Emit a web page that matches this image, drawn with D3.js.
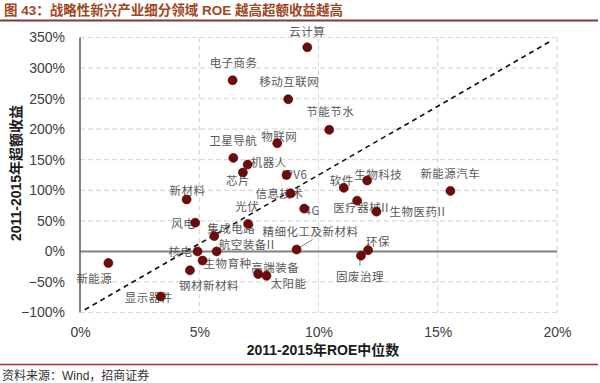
<!DOCTYPE html>
<html><head><meta charset="utf-8">
<script src="https://cdn.jsdelivr.net/npm/d3@7"></script>
<style>
html,body{margin:0;padding:0;background:#fff;}
svg{display:block;}
</style></head>
<body>
<svg id="c" width="600" height="383"></svg>
<script>
// ---- data ----
const names = ["云计算","电子商务","移动互联网","节能节水","物联网","卫星导航","机器人","芯片","IPV6","新材料","信息技术","软件","生物科技","新能源汽车","医疗器械II","生物医药II","4G","光伏","风电","集成电路","核电","航空装备II","精细化工及新材料","环保","固废治理","生物育种","钢材新材料","高端装备","太阳能","新能源","显示器件"];
const roeMedian = [0.0953,0.0640,0.0873,0.1045,0.0827,0.0643,0.0703,0.0683,0.0866,0.0447,0.0883,0.1106,0.1204,0.1553,0.1162,0.1243,0.0940,0.0705,0.0483,0.0563,0.0493,0.0573,0.0908,0.1208,0.1178,0.0514,0.0461,0.0747,0.0782,0.0119,0.0339];
const excessReturn = [3.34,2.80,2.49,1.99,1.77,1.53,1.42,1.29,1.25,0.85,0.95,1.04,1.16,0.99,0.83,0.65,0.70,0.45,0.47,0.25,0.00,0.00,0.03,0.02,-0.07,-0.15,-0.31,-0.37,-0.40,-0.19,-0.74];
const xTicks = [0,0.05,0.10,0.15,0.20];
const yTicks = [-1,-0.5,0,0.5,1,1.5,2,2.5,3,3.5];
const trendLine = [[0.002,-0.955],[0.1975,3.444]];
const title = "图 43：战略性新兴产业细分领域 ROE 越高超额收益越高";
const xTitle = "2011-2015年ROE中位数";
const yTitle = "2011-2015年超额收益";
const source = "资料来源：Wind，招商证券";

// ---- layout (label offsets in px from each dot) ----
const labelOffsets = {
 "云计算":[0,-16],"电子商务":[1,-18],"移动互联网":[1,-18],"节能节水":[1,-19],"物联网":[2,-7],
 "卫星导航":[0,-18],"机器人":[21,-3],"芯片":[-5,7],"IPV6":[8,-1],"新材料":[1,-9],"信息技术":[-11,0],
 "软件":[-2,-8],"生物科技":[11,-7],"新能源汽车":[0,-18],"医疗器械II":[4,6],"生物医药II":[41,-1],
 "4G":[8,1],"光伏":[-1,-18],"风电":[-12,0],"集成电路":[17,-8],"核电":[-17,0],"航空装备II":[30,-7],
 "精细化工及新材料":[14,-19],"环保":[10,-9],"固废治理":[-1,20],"生物育种":[25,2],"钢材新材料":[19,15],
 "高端装备":[17,-7],"太阳能":[22,7],"新能源":[-14,15],"显示器件":[-12,0]
};
const leaders = {"精细化工及新材料":[[3,-2],[16,-10]],"固废治理":[[-1,2],[-1,10]]};

const svg = d3.select("#c");
const x = d3.scaleLinear().domain([0,0.2]).range([80,557]);
const y = d3.scaleLinear().domain([-1,3.5]).range([312.5,37.5]);
const pct = d3.format(".0%");
const latin = "'Liberation Sans', Arial, sans-serif";
const cjk = "'Liberation Sans','Noto Sans CJK SC', sans-serif";

// title
svg.append("text").attr("x",4).attr("y",15).text(title)
  .attr("font-family",cjk).attr("font-size",13.5).attr("font-weight","bold").attr("fill","#a0461e");
svg.append("line").attr("x1",0).attr("x2",598).attr("y1",20.5).attr("y2",20.5)
  .attr("stroke","#7a3b3b").attr("stroke-width",2);

// gridlines
svg.append("g").selectAll("line").data(yTicks.filter(d=>d!==0)).join("line")
  .attr("x1",x(0)).attr("x2",x(0.2)).attr("y1",d=>y(d)).attr("y2",d=>y(d))
  .attr("stroke","#d9d9d9").attr("stroke-width",1.2).attr("stroke-dasharray","5,3");
svg.append("g").selectAll("line").data(xTicks.filter(d=>d!==0)).join("line")
  .attr("x1",d=>x(d)).attr("x2",d=>x(d)).attr("y1",y(3.5)).attr("y2",y(-1))
  .attr("stroke","#d9d9d9").attr("stroke-width",1.2).attr("stroke-dasharray","5,3");

// zero line
svg.append("line").attr("x1",x(0)).attr("x2",x(0.2)).attr("y1",y(0)).attr("y2",y(0))
  .attr("stroke","#808080").attr("stroke-width",2);
// y axis line
svg.append("line").attr("x1",x(0)).attr("x2",x(0)).attr("y1",y(3.5)).attr("y2",y(-1))
  .attr("stroke","#595959").attr("stroke-width",1.5);

// axes labels
const ya = svg.append("g").attr("transform",`translate(${x(0)-12},0)`)
  .call(d3.axisLeft(y).tickValues(yTicks).tickFormat(pct).tickSize(0));
ya.select(".domain").remove();
ya.selectAll("text").attr("font-family",latin).attr("font-size",14).attr("fill","#404040");
const xa = svg.append("g").attr("transform",`translate(0,${y(-1)+12})`)
  .call(d3.axisBottom(x).tickValues(xTicks).tickFormat(pct).tickSize(0));
xa.select(".domain").remove();
xa.selectAll("text").attr("font-family",latin).attr("font-size",14).attr("fill","#404040");

// axis titles
svg.append("text").attr("x",323).attr("y",355).attr("text-anchor","middle").text(xTitle)
  .attr("font-family",cjk).attr("font-size",14).attr("font-weight","bold").attr("fill","#1a1a1a");
svg.append("text").attr("transform","translate(21,173) rotate(-90)").attr("text-anchor","middle").text(yTitle)
  .attr("font-family",cjk).attr("font-size",14).attr("font-weight","bold").attr("fill","#1a1a1a");

// trend line
svg.append("line").attr("x1",x(trendLine[0][0])).attr("y1",y(trendLine[0][1]))
  .attr("x2",x(trendLine[1][0])).attr("y2",y(trendLine[1][1]))
  .attr("stroke","#111").attr("stroke-width",1.6).attr("stroke-dasharray","5,4");

const pts = names.map((n,i)=>({name:n,rx:roeMedian[i],ry:excessReturn[i]}));

// leader lines
svg.append("g").selectAll("line").data(pts.filter(d=>leaders[d.name])).join("line")
  .attr("x1",d=>x(d.rx)+leaders[d.name][0][0]).attr("y1",d=>y(d.ry)+leaders[d.name][0][1])
  .attr("x2",d=>x(d.rx)+leaders[d.name][1][0]).attr("y2",d=>y(d.ry)+leaders[d.name][1][1])
  .attr("stroke","#808080").attr("stroke-width",1);

// labels
svg.append("g").selectAll("text").data(pts).join("text")
  .attr("x",d=>x(d.rx)+labelOffsets[d.name][0])
  .attr("y",d=>y(d.ry)+labelOffsets[d.name][1])
  .attr("text-anchor","middle").attr("dominant-baseline","central")
  .attr("font-family","'Noto Sans CJK SC', sans-serif").attr("font-size",11.5)
  .attr("letter-spacing",0.5).attr("fill","#595959").text(d=>d.name);

// dots
svg.append("g").selectAll("circle").data(pts).join("circle")
  .attr("cx",d=>x(d.rx)).attr("cy",d=>y(d.ry)).attr("r",4.5)
  .attr("fill","#6e0b0b").attr("stroke","#4a0000").attr("stroke-width",0.6);

// source
svg.append("line").attr("x1",0).attr("x2",598).attr("y1",364.5).attr("y2",364.5)
  .attr("stroke","#b52a2a").attr("stroke-width",1.5);
svg.append("text").attr("x",2).attr("y",380).text(source)
  .attr("font-family",cjk).attr("font-size",12).attr("fill","#333");
</script>
</body></html>
